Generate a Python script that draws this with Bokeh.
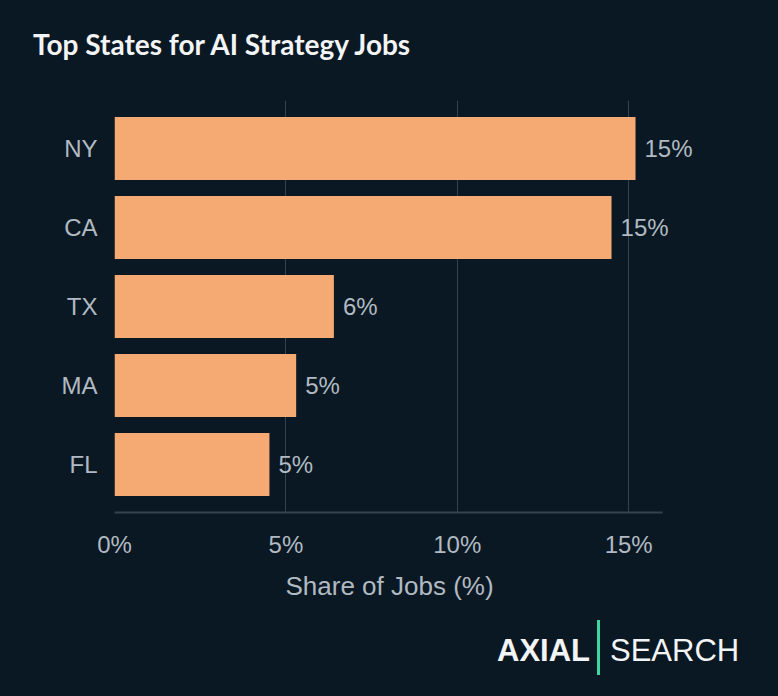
import math
from bokeh.plotting import figure
from bokeh.layouts import column
from bokeh.models import (FactorRange, Range1d, FixedTicker, PrintfTickFormatter,
                          Title, Div, ColumnDataSource)
from bokeh.core.properties import value
from bokeh.embed import file_html
from bokeh.resources import INLINE

# ---- data ----
states = ["NY", "CA", "TX", "MA", "FL"]
shares = [15.2, 14.5, 6.4, 5.3, 4.52]
x_ticks = [0, 5, 10, 15]
title_text = "Top States for AI Strategy Jobs"
x_label = "Share of Jobs (%)"

BG = "#0a1823"
BAR = "#f4aa72"
TXT = "#b1bac2"
GRID = "#34434e"

labels = [f"{math.floor(v + 0.5):d}%" for v in shares]
src = ColumnDataSource(dict(state=states, share=shares, label=labels))

# ---- title strip ----
title_html = (
    '<div style="position:relative;width:778px;height:100px;">'
    '<span style="position:absolute;left:33px;top:24px;font-family:Lato;'
    'font-weight:bold;font-size:28px;color:#f2f4f5;white-space:nowrap;">'
    + title_text + '</span></div>'
)
title_div = Div(text=title_html, width=778, height=100, margin=0,
                styles={"background-color": BG})

PX = 34.3  # pixels per percent
p = figure(width=778, height=510, output_backend="svg", toolbar_location=None,
           y_range=FactorRange(factors=states[::-1], range_padding=0.043),
           x_range=Range1d(0, 18),
           min_border_left=114, min_border_right=778 - 114 - int(18 * PX),
           min_border_top=0, min_border_bottom=98)
p.background_fill_color = BG
p.border_fill_color = None
p.outline_line_color = None

p.hbar(y="state", right="share", height=0.8, left=0, source=src,
       fill_color=BAR, line_color=None)
p.text(x="share", y="state", text="label", source=src, x_offset=9,
       text_baseline="middle", text_align="left", text_color=TXT,
       text_font=value("Liberation Sans"), text_font_size="24px")

# x axis
xa = p.xaxis[0]
xa.ticker = FixedTicker(ticks=x_ticks)
xa.bounds = (0, 16)
xa.formatter = PrintfTickFormatter(format="%d%%")
xa.axis_line_color = GRID
xa.axis_line_width = 2
xa.major_tick_line_color = None
xa.minor_tick_line_color = None
xa.major_label_text_color = TXT
xa.major_label_text_font = "Liberation Sans"
xa.major_label_text_font_size = "24px"
xa.major_label_standoff = 12

# x-axis title, centred under the 0-16 % span of the axis
p.add_layout(Title(text=x_label, align="left", offset=171, standoff=16,
                   text_color=TXT, text_font="Liberation Sans",
                   text_font_size="26px", text_font_style="normal"), "below")

ya = p.yaxis[0]
ya.axis_line_color = None
ya.major_tick_line_color = None
ya.minor_tick_line_color = None
ya.major_label_text_color = TXT
ya.major_label_text_font = "Liberation Sans"
ya.major_label_text_font_size = "24px"
ya.major_label_standoff = 11

p.xgrid.ticker = FixedTicker(ticks=x_ticks)
p.xgrid.grid_line_color = GRID
p.xgrid.grid_line_width = 1
p.ygrid.grid_line_color = None

# ---- logo strip ----
logo_html = (
    '<div style="position:relative;width:778px;height:86px;">'
    '<span style="position:absolute;left:497px;top:19px;font-family:\'Liberation Sans\';'
    'font-weight:bold;font-size:31px;color:#f2f4f5;white-space:nowrap;">AXIAL</span>'
    '<span style="position:absolute;left:597px;top:10px;width:3px;height:55px;'
    'background:#3ed6a0;"></span>'
    '<span style="position:absolute;left:610px;top:19px;font-family:\'Liberation Sans\';'
    'font-size:31px;color:#f2f4f5;white-space:nowrap;">SEARCH</span>'
    '</div>'
)
logo = Div(text=logo_html, width=778, height=86, margin=0,
           styles={"background-color": BG})

layout = column(title_div, p, logo, spacing=0, styles={"background-color": BG})
open("out.html", "w").write(file_html(layout, INLINE))
